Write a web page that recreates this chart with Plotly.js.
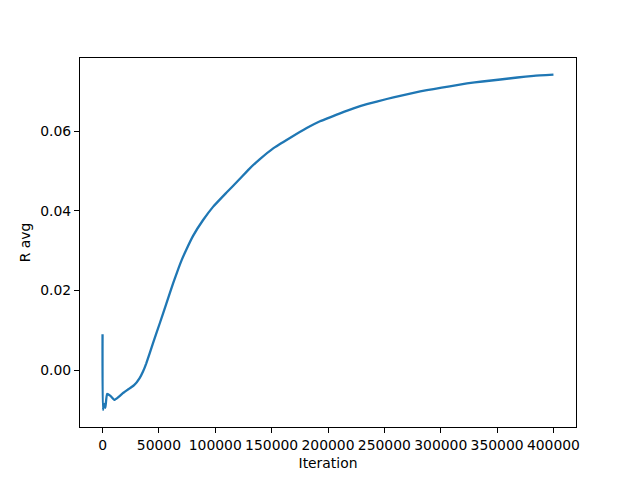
<!DOCTYPE html>
<html>
<head>
<meta charset="utf-8">
<script src="https://cdn.plot.ly/plotly-3.0.1.min.js"></script>
<style>html,body{margin:0;padding:0;background:#fff;}#chart{width:640px;height:480px;}</style>
</head>
<body>
<div id="chart"></div>
<script>
const iterations = [0, 300, 1500, 2500, 4000, 7000, 10500, 14000, 18000, 24000, 28000, 32900, 36000, 38800, 44700, 50700, 56600, 62500, 66000, 70000, 74400, 80300, 89200, 98000, 110000, 121000, 130000, 139600, 151400, 166200, 181100, 192900, 210700, 222000, 234400, 252100, 264000, 281800, 293600, 308000, 323300, 337000, 352900, 368000, 382500, 400000];
const rAvg = [0.0090, -0.0100, -0.0085, -0.0095, -0.0060, -0.0065, -0.0075, -0.0068, -0.0058, -0.0046, -0.0038, -0.0020, -0.0003, 0.0017, 0.0067, 0.0117, 0.0167, 0.0217, 0.0245, 0.0275, 0.0303, 0.0337, 0.0377, 0.0410, 0.0446, 0.0478, 0.0505, 0.0530, 0.0557, 0.0583, 0.0608, 0.0625, 0.0645, 0.0657, 0.0668, 0.0681, 0.0689, 0.0700, 0.0706, 0.0713, 0.0720, 0.0725, 0.0730, 0.0735, 0.0739, 0.0742];
const xTicks = [0, 50000, 100000, 150000, 200000, 250000, 300000, 350000, 400000];
const yTicks = [0.00, 0.02, 0.04, 0.06];

const font = {family: 'DejaVu Sans', size: 13.9, color: '#000'};
const trace = {x: iterations, y: rAvg, type: 'scatter', mode: 'lines', line: {color: '#1f77b4', width: 2.3, shape: 'spline', smoothing: 0.4}};
const axisCommon = {showgrid: false, zeroline: false, showline: true, mirror: true, linecolor: '#000', linewidth: 1, ticks: 'outside', ticklen: 5, tickwidth: 1, tickcolor: '#000', tickfont: font};
const layout = {
  width: 640, height: 480,
  margin: {l: 80, r: 64, t: 58, b: 53, pad: 0},
  paper_bgcolor: '#fff', plot_bgcolor: '#fff',
  showlegend: false,
  font: font,
  xaxis: Object.assign({}, axisCommon, {range: [-20000, 420000], tickvals: xTicks, ticktext: xTicks.map(v => String(v)), title: {text: 'Iteration', font: font, standoff: 6}}),
  yaxis: Object.assign({}, axisCommon, {range: [-0.0143, 0.0784], tickvals: yTicks, ticktext: yTicks.map(v => v.toFixed(2)), title: {text: 'R avg', font: font, standoff: 6}})
};
Plotly.newPlot('chart', [trace], layout, {staticPlot: true, displayModeBar: false});
</script>
</body>
</html>
